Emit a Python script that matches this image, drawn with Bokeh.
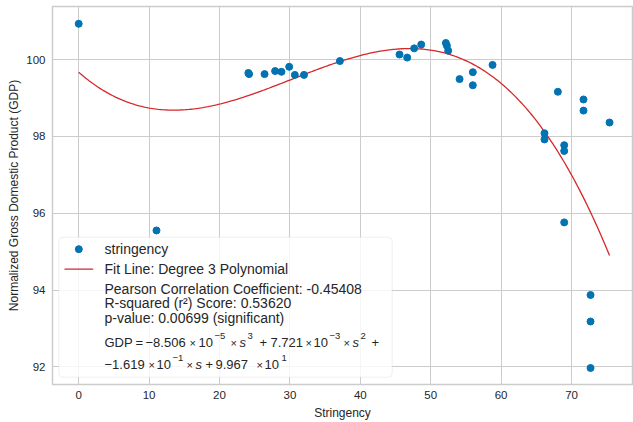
import numpy as np
from bokeh.plotting import figure
from bokeh.models import Range1d, FixedTicker, BoxAnnotation, Label
from bokeh.embed import file_html
from bokeh.resources import INLINE

# ---------------- data ----------------
stringency = [0.0, 11.05, 24.1, 24.2, 26.4, 27.9, 28.8, 29.9, 30.7, 32.0,
              37.1, 45.57, 46.66, 47.65, 48.65, 52.15, 52.3, 52.48, 54.1, 55.98,
              55.98, 58.78, 66.16, 66.16, 68.06, 68.96, 68.96, 68.96, 71.7, 71.7,
              72.7, 72.7, 72.7, 75.4]
gdp = [100.93, 95.55, 99.65, 99.62, 99.62, 99.70, 99.68, 99.81, 99.60, 99.60,
       99.96, 100.13, 100.05, 100.29, 100.39, 100.43, 100.36, 100.23, 99.49, 99.67,
       99.33, 99.86, 98.08, 97.92, 99.16, 97.77, 97.62, 95.76, 98.96, 98.67,
       93.87, 93.18, 91.97, 98.36]
# cubic fit coefficients shown in the legend (highest degree first)
fit_coeffs = [-8.506e-5, 7.721e-3, -1.619e-1, 9.967e1]
x_ticks = [0, 10, 20, 30, 40, 50, 60, 70]
y_ticks = [92, 94, 96, 98, 100]
series_label = "stringency"
fit_label = "Fit Line: Degree 3 Polynomial"
stats_lines = ["Pearson Correlation Coefficient: -0.45408",
               "R-squared (r\u00b2) Score: 0.53620",
               "p-value: 0.00699 (significant)"]

# ---------------- layout ----------------
X0, X1 = -3.72, 78.66
Y0, Y1 = 91.54, 101.38
W, H = 633, 422
BL, BR, BT, BB = 52, 1, 6, 37
FW = W - BL - BR
FH = H - BT - BB

BLUE = "#0173b2"
RED = "#d62728"
TXT = "#262626"
FONT = "Liberation Sans"

p = figure(width=W, height=H, x_range=Range1d(X0, X1), y_range=Range1d(Y0, Y1),
           output_backend="svg", toolbar_location=None, tools="",
           min_border_left=BL, min_border_right=BR, min_border_top=BT,
           min_border_bottom=BB, background_fill_color="white",
           border_fill_color="white")

p.outline_line_color = "#cccccc"
p.outline_line_width = 1.5
p.grid.grid_line_color = "#cccccc"
p.grid.grid_line_width = 1

for ax in (p.xaxis[0], p.yaxis[0]):
    ax.axis_line_color = None
    ax.major_tick_line_color = None
    ax.minor_tick_line_color = None
    ax.major_tick_out = 0
    ax.major_tick_in = 0
    ax.minor_tick_out = 0
    ax.major_label_text_font = FONT
    ax.major_label_text_font_size = "11.5px"
    ax.major_label_text_color = TXT
    ax.axis_label_text_font = FONT
    ax.axis_label_text_font_size = "12px"
    ax.axis_label_text_font_style = "normal"
    ax.axis_label_text_color = TXT

p.xaxis.ticker = FixedTicker(ticks=x_ticks)
p.yaxis.ticker = FixedTicker(ticks=y_ticks)
p.xaxis.axis_label = "Stringency"
p.yaxis.axis_label = "Normalized Gross Domestic Product (GDP)"
p.xaxis.major_label_standoff = 6
p.xaxis.axis_label_standoff = 4
p.yaxis.major_label_standoff = 7
p.yaxis.axis_label_standoff = 2

# legend background drawn above the grid but below the glyphs
def lx(off):
    return X0 + off * (X1 - X0) / FW

def ly(off):
    return Y0 + off * (Y1 - Y0) / FH

box = BoxAnnotation(left=lx(6.3), right=lx(339.7), bottom=ly(7.3), top=ly(147.7),
                    fill_color="white", fill_alpha=0.8, line_color="#cccccc",
                    line_width=1, border_radius=4, level="underlay")
p.add_layout(box)

# fit line over the observed stringency range
s_fit = np.linspace(0, max(stringency), 300)
p.line(s_fit, np.polyval(fit_coeffs, s_fit), color=RED, line_width=1.3)
p.scatter(stringency, gdp, size=7, color=BLUE, line_color=BLUE)

# ---------------- custom legend ----------------
p.scatter([lx(26.3)], [ly(135.7)], size=7, color=BLUE)
p.line([lx(12), lx(40.7)], [ly(115.7), ly(115.7)], color=RED, line_width=1.3)


def add_text(text, xo, yo, size="14px", style="normal"):
    p.add_layout(Label(x=lx(xo), y=ly(yo), text=text, text_align="left",
                       text_baseline="middle", text_font=FONT,
                       text_font_size=size, text_font_style=style,
                       text_color=TXT))


add_text(series_label, 52, 135.7)
add_text(fit_label, 52, 115.7)
for txt, yo in zip(stats_lines, [95.7, 81.7, 66.7]):
    add_text(txt, 52, yo)

# equation: (text, x offset, row, kind)
R1, R2 = 41.7, 20.0
eq_parts = [
    ("GDP", 52, R1, "n"), ("=", 83, R1, "n"), ("\u22128.506", 93, R1, "n"),
    ("\u00d7", 137, R1, "x"), ("10", 146, R1, "n"), ("\u22125", 162, R1, "s"),
    ("\u00d7", 178, R1, "x"), ("s", 187, R1, "i"), ("3", 195, R1, "s"),
    ("+", 207, R1, "n"), ("7.721", 218, R1, "n"), ("\u00d7", 253, R1, "x"),
    ("10", 261, R1, "n"), ("\u22123", 277, R1, "s"), ("\u00d7", 291, R1, "x"),
    ("s", 300, R1, "i"), ("2", 308, R1, "s"), ("+", 319, R1, "n"),
    ("\u22121.619", 52, R2, "n"), ("\u00d7", 96, R2, "x"), ("10", 104, R2, "n"),
    ("\u22121", 120, R2, "s"), ("\u00d7", 134, R2, "x"), ("s", 143, R2, "i"),
    ("+", 153, R2, "n"), ("9.967", 163, R2, "n"), ("\u00d7", 204, R2, "x"),
    ("10", 212, R2, "n"), ("1", 229, R2, "s"),
]
for txt, xo, row, kind in eq_parts:
    if kind == "n":
        add_text(txt, xo, row, "13px")
    elif kind == "i":
        add_text(txt, xo, row, "13px", "italic")
    elif kind == "x":
        add_text(txt, xo, row, "11px")
    else:
        add_text(txt, xo, row + 7, "9.5px")

open("out.html", "w").write(file_html(p, INLINE))
